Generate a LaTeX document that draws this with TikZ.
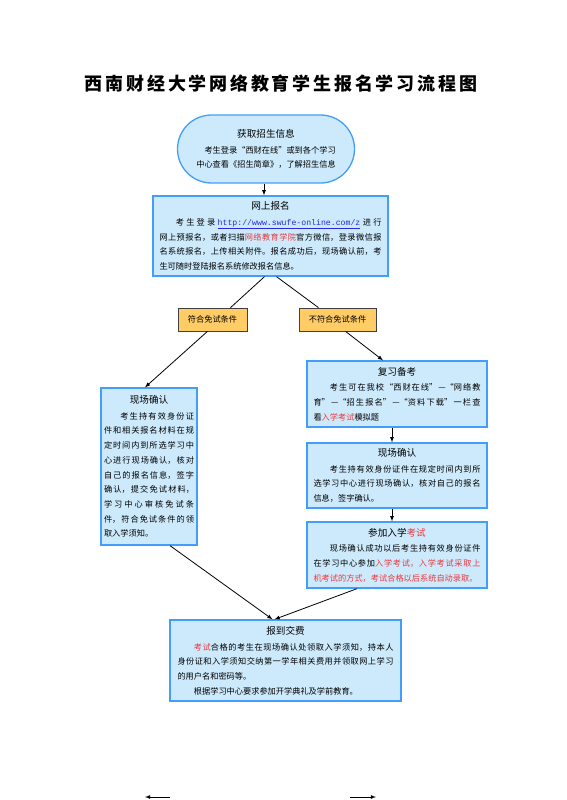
\documentclass[tikz,border=0pt]{standalone}
\usepackage{fontspec}
\setmainfont{Noto Sans CJK SC}
\newfontfamily\urlfont{Liberation Mono}
\usetikzlibrary{shapes,arrows}
\usepackage{xcolor}
\definecolor{boxfill}{RGB}{204,234,252}
\definecolor{boxline}{RGB}{66,158,250}
\definecolor{tagfill}{RGB}{255,204,102}
\definecolor{hotred}{RGB}{240,55,60}
\definecolor{linkblue}{RGB}{40,40,225}
\XeTeXlinebreaklocale "zh"
\XeTeXlinebreakskip=0pt plus 3pt
\newcommand{\redtxt}[1]{\textcolor{hotred}{#1}}
\newcommand{\boxhead}[1]{\makebox[\hsize]{\fontsize{9.6}{14}\selectfont #1}\par\vspace{1pt}}
\newcommand{\boxline}[1]{\makebox[\hsize]{#1}\par}

\begin{document}
\begin{tikzpicture}[x=1pt,y=-1pt,
		info/.style={draw=boxline,line width=1.3pt,fill=boxfill,align=justify,inner ysep=3pt,font=\fontsize{8.2}{14.7}\selectfont},
		tag/.style={draw=black!75,line width=0.7pt,fill=tagfill,minimum height=23pt,font=\fontsize{8.2}{10}\selectfont},
		link/.style={thick,-latex}]
		\useasboundingbox (0,0) rectangle (566,800);
		\node (title) at (281,84) {\fontsize{18}{18}\selectfont\bfseries\addfontfeature{LetterSpace=15.5}西南财经大学网络教育学生报名学习流程图};
		\node[info,rounded corners=34pt,text width=165pt,minimum width=177pt,minimum height=68pt] (get) at (266,149)
			{\boxhead{获取招生信息}
			\boxline{\hspace*{1em}考生登录“西财在线”或到各个学习}
			\boxline{中心查看《招生简章》，了解招生信息}};
		\node[info,text width=222pt,inner xsep=6.5pt,minimum height=80pt] (apply) at (270.5,236)
			{\boxhead{网上报名}
			\hspace*{2em}考生登录 {\urlfont\color{linkblue}\underline{http://www.swufe-online.com/z}} 进行\linebreak 网上预报名，或者扫描\redtxt{网络教育学院}官方微信，登录微信报\linebreak 名系统报名，上传相关附件。报名成功后，现场确认前，考\linebreak 生可随时登陆报名系统修改报名信息。};
		\node[tag,minimum width=69pt] (yes) at (212.5,319.5) {符合免试条件};
		\node[tag,minimum width=77pt] (no) at (337.5,319.5) {不符合免试条件};
		\node[info,text width=90pt,inner xsep=3pt,minimum height=157pt] (onsite) at (149,466.5)
			{\boxhead{现场确认}
			\hspace*{2em}考生持有效身份证\linebreak 件和相关报名材料在规\linebreak 定时间内到所选学习中\linebreak 心进行现场确认，核对\linebreak 自己的报名信息，签字\linebreak 确认，提交免试材料，\linebreak 学习中心审核免试条\linebreak 件，符合免试条件的领\linebreak 取入学须知。};
		\node[info,text width=167pt,inner xsep=6.5pt,minimum height=66pt] (review) at (397,394)
			{\boxhead{复习备考}
			\hspace*{2em}考生可在我校“西财在线”—“网络教\linebreak 育”—“招生报名”—“资料下载”一栏查\linebreak 看\redtxt{入学考试}模拟题};
		\node[info,text width=167pt,inner xsep=6.5pt,minimum height=65pt] (confirm) at (397,475.5)
			{\boxhead{现场确认}
			\hspace*{2em}考生持有效身份证件在规定时间内到所\linebreak 选学习中心进行现场确认，核对自己的报名\linebreak 信息，签字确认。};
		\node[info,text width=167pt,inner xsep=6.5pt,minimum height=66pt] (exam) at (397,555)
			{\boxhead{参加入学\redtxt{考试}}
			\hspace*{2em}现场确认成功以后考生持有效身份证件\linebreak 在学习中心参加\redtxt{入学考试，入学考试采取上}\linebreak \redtxt{机考试的方式，考试合格以后系统自动录取。}};
		\node[info,text width=216pt,inner xsep=7.5pt,minimum height=81pt] (pay) at (285.5,660.5)
			{\boxhead{报到交费}
			\hspace*{2em}\redtxt{考试}合格的考生在现场确认处领取入学须知，持本人\linebreak 身份证和入学须知交纳第一学年相关费用并领取网上学习\linebreak 的用户名和密码等。\par
			\hspace*{2em}根据学习中心要求参加开学典礼及学前教育。};
		\draw[link] ([xshift=-2pt]get.south) -- ([xshift=-6.5pt]apply.north);
		\draw[thick] ([xshift=-6pt]apply.south) -- ([xshift=18pt]yes.north);
		\draw[thick] ([xshift=6pt]apply.south) -- ([xshift=-19pt]no.north);
		\draw[link] ([xshift=-5pt]yes.south) -- ([xshift=-4pt]onsite.north);
		\draw[link] ([xshift=8pt]no.south) -- ([xshift=-14pt]review.north);
		\draw[link] ([xshift=-5pt]review.south) -- ([xshift=-5pt]confirm.north);
		\draw[link] ([xshift=-5pt]confirm.south) -- ([xshift=-5pt]exam.north);
		\draw[link] ([xshift=21pt]onsite.south) -- ([xshift=-13pt]pay.north);
		\draw[link] ([xshift=-40pt]exam.south) -- ([xshift=-11pt]pay.north);
		\coordinate (backA) at (170,797);
		\coordinate (backB) at (145,797);
		\coordinate (nextA) at (350,797);
		\coordinate (nextB) at (376,797);
		\draw[link] (backA) -- (backB);
		\draw[link] (nextA) -- (nextB);
\end{tikzpicture}
\end{document}
